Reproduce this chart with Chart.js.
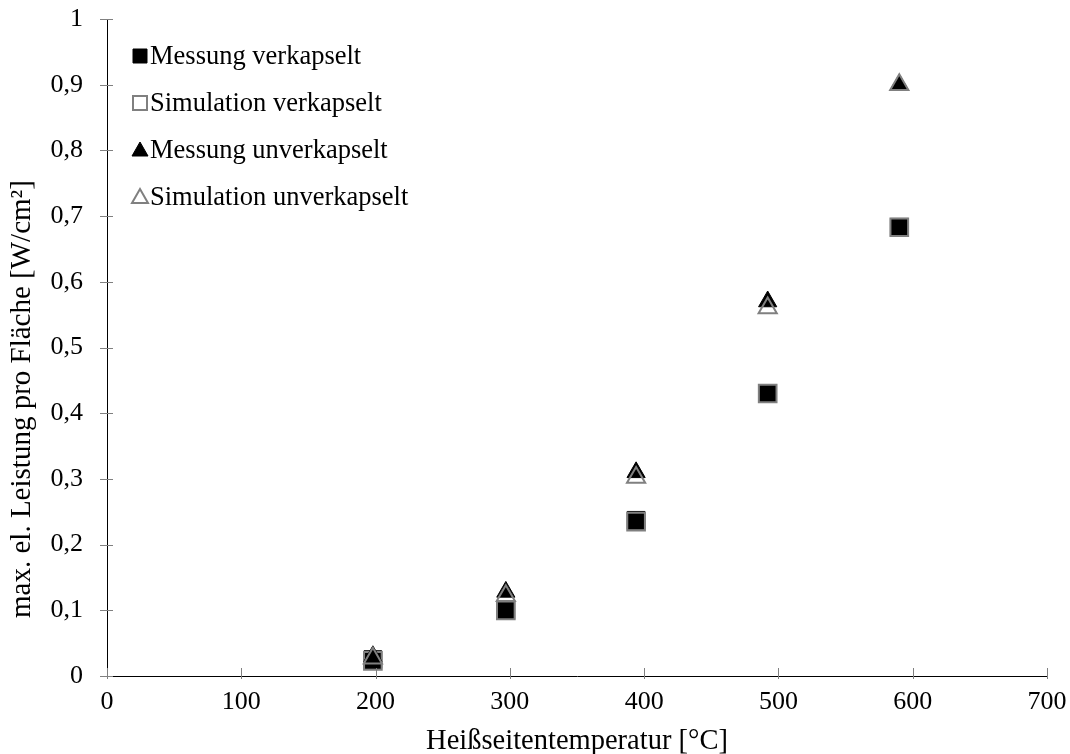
<!DOCTYPE html>
<html>
<head>
<meta charset="utf-8">
<script src="https://cdn.jsdelivr.net/npm/chart.js"></script>
<style>
  body { margin: 0; background: #fff; }
  #wrap { width: 1070px; height: 754px; }
</style>
</head>
<body>
<div id="wrap"><canvas id="leistung" width="1070" height="754"></canvas></div>
<script>
// Hot-side temperature [°C] and max. electrical power per area [W/cm²]
const temperatures = [198, 297, 394, 492, 590];
const messungVerkapselt = [0.025, 0.1, 0.237, 0.43, 0.683];
const simulationVerkapselt = [0.023, 0.1, 0.235, 0.43, 0.683];
const messungUnverkapselt = [0.03, 0.128, 0.31, 0.57, 0.9];
const simulationUnverkapselt = [0.027, 0.122, 0.302, 0.56, 0.9];

const xTicks = [0, 100, 200, 300, 400, 500, 600, 700];
const yTicks = [0, 0.1, 0.2, 0.3, 0.4, 0.5, 0.6, 0.7, 0.8, 0.9, 1];

const serif = '"Liberation Serif", "Times New Roman", serif';
const tickSize = 26;
const titleSize = 28.5;
const legendSize = 26.5;
const yTitle = 'max. el. Leistung pro Fläche [W/cm²]';

const points = (ys) => temperatures.map((t, i) => ({ x: t, y: ys[i] }));

const datasets = [
  { label: 'Messung verkapselt', data: points(messungVerkapselt), order: 3,
    pointStyle: 'rect', pointRadius: 12.5, backgroundColor: '#000', borderColor: '#000', borderWidth: 1 },
  { label: 'Simulation verkapselt', data: points(simulationVerkapselt), order: 2,
    pointStyle: 'rect', pointRadius: 12.5, backgroundColor: 'rgba(0,0,0,0)', borderColor: '#808080', borderWidth: 2 },
  { label: 'Messung unverkapselt', data: points(messungUnverkapselt), order: 1,
    pointStyle: 'triangle', pointRadius: 10.5, backgroundColor: '#000', borderColor: '#000', borderWidth: 1 },
  { label: 'Simulation unverkapselt', data: points(simulationUnverkapselt), order: 0,
    pointStyle: 'triangle', pointRadius: 10.5, backgroundColor: 'rgba(0,0,0,0)', borderColor: '#808080', borderWidth: 2 }
];

// no extra label overflow padding, the layout padding fixes the plot box
const noScalePadding = (s) => {
  s.paddingTop = 0; s.paddingBottom = 0; s.paddingLeft = 0; s.paddingRight = 0;
};

// tick marks crossing the axis lines
const crossTicks = {
  id: 'crossTicks',
  afterDraw(chart) {
    const { ctx, chartArea, scales } = chart;
    ctx.save();
    ctx.strokeStyle = '#808080';
    ctx.lineWidth = 1;
    ctx.beginPath();
    yTicks.forEach(v => {
      const y = Math.round(scales.y.getPixelForValue(v)) + 0.5;
      ctx.moveTo(chartArea.left - 7, y);
      ctx.lineTo(chartArea.left + 6, y);
    });
    xTicks.forEach(v => {
      const x = Math.round(scales.x.getPixelForValue(v)) + 0.5;
      ctx.moveTo(x, chartArea.bottom - 8);
      ctx.lineTo(x, chartArea.bottom + 3);
    });
    ctx.stroke();
    ctx.restore();
  }
};

// rotated y title, sits a bit below the plot centre
const yAxisTitle = {
  id: 'yAxisTitle',
  afterDraw(chart) {
    const { ctx } = chart;
    ctx.save();
    ctx.translate(22, 399);
    ctx.rotate(-Math.PI / 2);
    ctx.font = '29px ' + serif;
    ctx.fillStyle = '#000';
    ctx.textAlign = 'center';
    ctx.textBaseline = 'middle';
    ctx.fillText(yTitle, 0, 0);
    ctx.restore();
  }
};

// legend drawn inside the plot area, top left
const innerLegend = {
  id: 'innerLegend',
  afterDraw(chart) {
    const { ctx, chartArea } = chart;
    const x0 = chartArea.left + 33;
    let y = chartArea.top + 37;
    ctx.save();
    ctx.font = legendSize + 'px ' + serif;
    ctx.textBaseline = 'middle';
    ctx.fillStyle = '#000';
    chart.data.datasets.forEach(ds => {
      ctx.save();
      ctx.lineWidth = ds.borderWidth;
      ctx.strokeStyle = ds.borderColor;
      ctx.fillStyle = ds.backgroundColor;
      ctx.beginPath();
      if (ds.pointStyle === 'rect') {
        ctx.rect(x0 - 7, y - 7, 14, 14);
      } else {
        ctx.moveTo(x0, y - 8);
        ctx.lineTo(x0 + 8, y + 6);
        ctx.lineTo(x0 - 8, y + 6);
        ctx.closePath();
      }
      ctx.fill();
      ctx.stroke();
      ctx.restore();
      ctx.fillText(ds.label, x0 + 10, y + 1);
      y += 47;
    });
    ctx.restore();
  }
};

new Chart(document.getElementById('leistung'), {
  type: 'scatter',
  data: { datasets },
  options: {
    responsive: false,
    animation: false,
    layout: { padding: { top: 19, right: 23, left: 0, bottom: 0 } },
    plugins: { legend: { display: false }, tooltip: { enabled: false } },
    scales: {
      x: {
        type: 'linear', min: 0, max: 700,
        afterBuildTicks: (s) => { s.ticks = xTicks.map(v => ({ value: v })); },
        afterFit: (s) => { s.height = 78; noScalePadding(s); },
        grid: { display: false, drawTicks: false },
        border: { display: true, color: '#000', width: 1 },
        ticks: { color: '#000', padding: 11, maxRotation: 0, font: { family: serif, size: tickSize } },
        title: { display: true, text: 'Heißseitentemperatur [°C]', color: '#000',
                 padding: { top: 0, bottom: -5 }, font: { family: serif, size: titleSize } }
      },
      y: {
        type: 'linear', min: 0, max: 1,
        afterBuildTicks: (s) => { s.ticks = yTicks.map(v => ({ value: v })); },
        afterFit: (s) => { s.width = 107; noScalePadding(s); },
        grid: { display: false, drawTicks: false },
        border: { display: true, color: '#000', width: 1 },
        ticks: { color: '#000', padding: 24, font: { family: serif, size: tickSize },
                 callback: (v) => String(v).replace('.', ',') }
      }
    }
  },
  plugins: [crossTicks, yAxisTitle, innerLegend]
});
</script>
</body>
</html>
